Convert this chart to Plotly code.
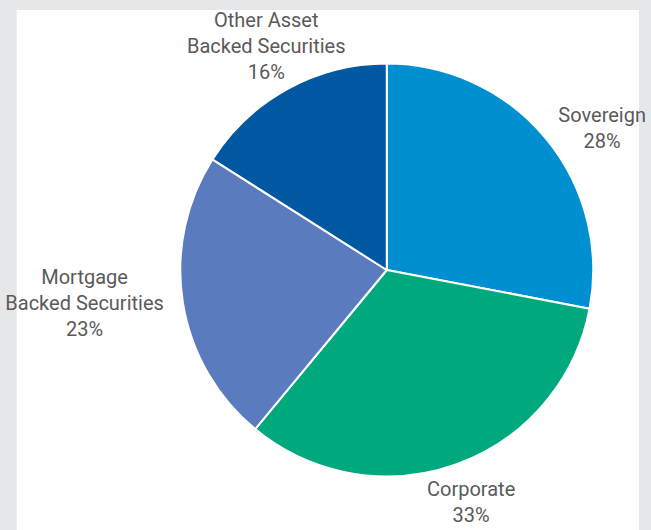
import math
import plotly.graph_objects as go

categories = ["Sovereign", "Corporate", "Mortgage<br>Backed Securities", "Other Asset<br>Backed Securities"]
values = [28, 33, 23, 16]
colors = ["#008FD0", "#00A87E", "#5B7BBF", "#0058A2"]
# label placement mode per slice: native plotly outside text, or radial annotation
label_mode = ["outside", "radial", "outside", "radial"]

W, H = 651, 530
cx, cy, r = 392, 270, 212
label_gap = 44
font_size = 20
font = dict(family="Roboto", size=font_size, color="#5a5a5a")

total = sum(values)
pct = [f"{round(100 * v / total)}%" for v in values]

fig = go.Figure(go.Pie(
    labels=categories,
    values=values,
    sort=False,
    direction="clockwise",
    rotation=0,
    marker=dict(colors=colors, line=dict(color="white", width=2)),
    textinfo="label+percent",
    textposition=["outside" if m == "outside" else "none" for m in label_mode],
    outsidetextfont=font,
    hoverinfo="label+percent",
    domain=dict(x=[(cx - r) / W, (cx + r) / W], y=[1 - (cy + r) / H, 1 - (cy - r) / H]),
    showlegend=False,
))

annotations = []
cum = 0
for cat, v, p, m in zip(categories, values, pct, label_mode):
    mid = (cum + v / 2) / total * 2 * math.pi
    cum += v
    if m != "radial":
        continue
    R = r + label_gap
    px = cx + R * math.sin(mid)
    py = cy - R * math.cos(mid)
    n_lines = cat.count("<br>") + 2
    half_h = n_lines * font_size * 1.3 / 2
    py = min(max(py, half_h + 2), H - half_h - 2)  # keep the label inside the frame
    annotations.append(dict(
        x=px / W, y=1 - py / H, xref="paper", yref="paper",
        text=f"{cat}<br>{p}", showarrow=False, font=font,
        xanchor="center", yanchor="middle", align="center",
    ))

fig.update_layout(
    width=W, height=H, autosize=False,
    margin=dict(l=0, r=0, t=0, b=0),
    paper_bgcolor="#E6E7E9",
    annotations=annotations,
    shapes=[dict(type="rect", xref="paper", yref="paper", x0=12 / W, x1=1, y0=0, y1=1 - 10 / H,
                 fillcolor="white", line=dict(width=0), layer="below")],
)

post = (
    "document.documentElement.style.overflow='hidden';"
    "document.body.style.margin='0';document.body.style.overflow='hidden';"
    "var gd=document.getElementById('{plot_id}');"
    f"Plotly.relayout(gd,{{width:{W},height:{H},autosize:false}});"
)

fig.write_html(
    "out.html",
    config={"displayModeBar": False, "responsive": False},
    default_width=f"{W}px", default_height=f"{H}px",
    post_script=post,
)
